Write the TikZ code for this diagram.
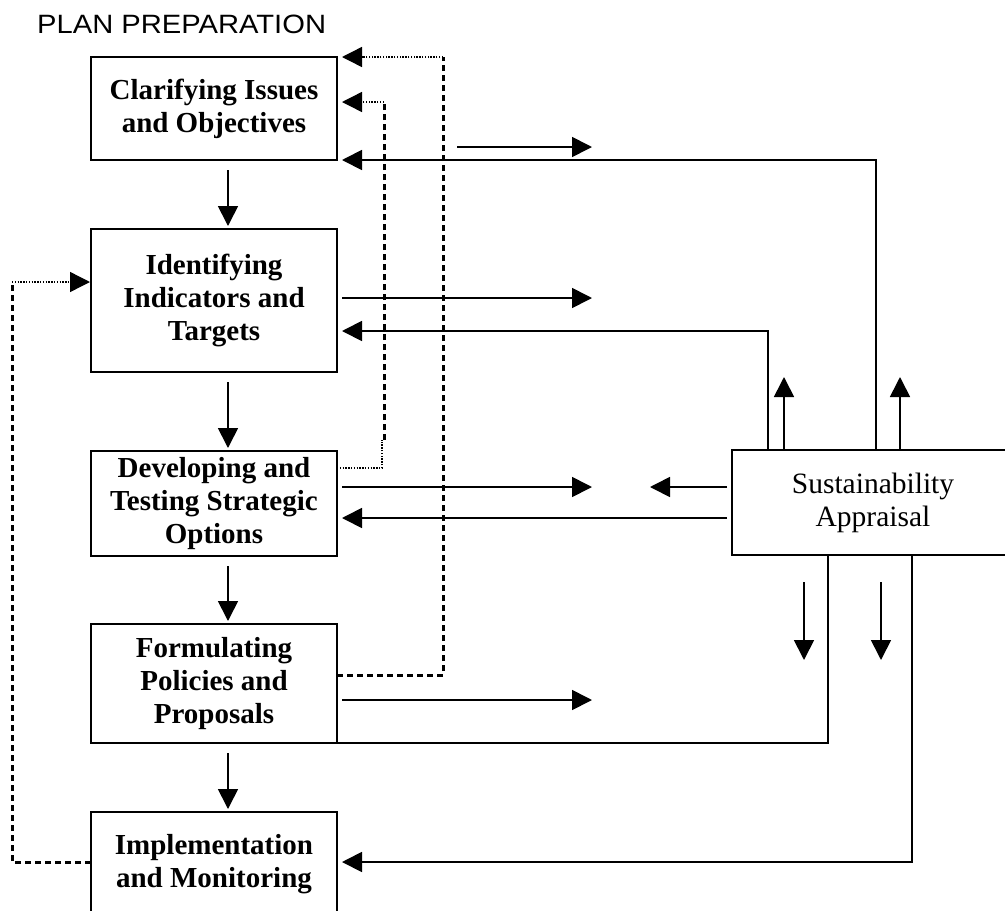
\documentclass[tikz,border=0pt]{standalone}
\usepackage{graphicx}
\usepackage{fontspec}
\setmainfont{Liberation Serif}
\newfontfamily\arialfont{Liberation Sans}
\usetikzlibrary{arrows.meta,calc}
\begin{document}
\begin{tikzpicture}[x=1pt,y=1pt,
  box/.style={draw,line width=2pt,minimum width=246pt,outer sep=0pt,inner sep=0pt,align=center,font=\fontsize{29}{33}\selectfont\bfseries},
  tip/.style={-{Triangle[length=20pt,width=20pt]}},
  arr/.style={line width=1.7pt,tip},
  ln/.style={line width=1.8pt},
  dsh/.style={line width=3pt,dash pattern=on 6pt off 4pt},
  dot/.style={line width=1.4pt,dash pattern=on 1.4pt off 1.4pt},
  tipdot/.style={dot,tip},
]
\useasboundingbox (0,0) rectangle (1005,-911);
\clip (0,0) rectangle (1005,-911);
\fill[white] (0,0) rectangle (1005,-911);

\node[anchor=base west,inner sep=0pt,font=\arialfont\fontsize{26.5}{30}\selectfont] (title) at (37,-33) {\scalebox{1.1}[1]{PLAN PREPARATION}};

% boxes
\node[box,minimum height=103pt] (B1) at (214,-108.5) {Clarifying Issues\\and Objectives};
\node[box,minimum height=143pt] (B2) at (214,-300.5) {Identifying\\Indicators and\\Targets};
\node[box,minimum height=105pt] (B3) at (214,-503.5) {Developing and\\Testing Strategic\\Options};
\node[box,minimum height=119pt] (B4) at (214,-683.5) {Formulating\\Policies and\\Proposals};
\node[box,draw=none,minimum height=104pt] (B5) at (214,-864) {Implementation\\and Monitoring};
\draw[line width=2pt] (B5.west |- 0,-930) |- (B5.north east) -- (B5.east |- 0,-930);
\node[draw,line width=2pt,minimum width=282pt,minimum height=105pt,outer sep=0pt,inner sep=0pt,align=center,font=\fontsize{29.5}{33}\selectfont] (SA) at (873,-502.5) {\raisebox{-3pt}{Sustainability}\\\raisebox{-3pt}{Appraisal}};

% main flow
\coordinate (xa) at (228,0);
\draw[arr,shorten <=10pt,shorten >=3pt] (B1.south -| xa) -- (B2.north -| xa);
\draw[arr,shorten <=10pt,shorten >=3pt] (B2.south -| xa) -- (B3.north -| xa);
\draw[arr,shorten <=10pt,shorten >=3pt] (B3.south -| xa) -- (B4.north -| xa);
\draw[arr,shorten <=10pt,shorten >=3pt] (B4.south -| xa) -- (B5.north -| xa);

% free right arrows
\coordinate (r1s) at (457,-147); \coordinate (r1e) at (592,-147);
\draw[arr] (r1s) -- (r1e);
\coordinate (r2e) at (592,-298);
\draw[arr,shorten <=5pt] (B2.east |- r2e) -- (r2e);
\coordinate (r3e) at (592,-487);
\draw[arr,shorten <=5pt] (B3.east |- r3e) -- (r3e);
\coordinate (r4e) at (592,-700);
\draw[arr,shorten <=5pt] (B4.east |- r4e) -- (r4e);
\coordinate (l1e) at (650,-487);
\draw[arr,shorten <=5pt] (SA.west |- l1e) -- (l1e);
\coordinate (l2) at (0,-518);
\draw[arr,shorten <=5pt,shorten >=5pt] (SA.west |- l2) -- (B3.east |- l2);

% feedback from SA
\coordinate (k1) at (876,-160);
\draw[ln,tip,shorten >=5pt] (SA.north -| k1) |- (B1.east |- k1);
\coordinate (k2) at (768,-331);
\draw[ln,tip,shorten >=5pt] (SA.north -| k2) |- (B2.east |- k2);
\coordinate (u1) at (784,-377); \coordinate (u2) at (900,-377);
\draw[arr] (SA.north -| u1) -- (u1);
\draw[arr] (SA.north -| u2) -- (u2);
\coordinate (d1s) at (804,-582); \coordinate (d1e) at (804,-660);
\draw[arr] (d1s) -- (d1e);
\coordinate (d2s) at (881,-582); \coordinate (d2e) at (881,-660);
\draw[arr] (d2s) -- (d2e);
\coordinate (k3) at (828,0);
\draw[ln] (SA.south -| k3) |- (B4.south east);
\coordinate (k4) at (912,-862);
\draw[ln,tip,shorten >=5pt] (SA.south -| k4) |- (B5.east |- k4);

% dashed / dotted loops
\coordinate (q1) at (443,-675); \coordinate (q2) at (443,-57);
\draw[dsh] (B4.east |- q1) -- (q1) -- (q2);
\draw[tipdot,shorten >=5pt] (q2) -- (B1.east |- q2);

\coordinate (p1) at (382,-468); \coordinate (p2) at (382,-440);
\coordinate (p3) at (384,-440); \coordinate (p4) at (384,-102);
\draw[dot] (B3.east |- p1) -- (p1) -- (p2);
\draw[dsh] (p3) -- (p4);
\draw[tipdot,shorten >=5pt] (p4) -- (B1.east |- p4);

\coordinate (m1) at (12,-862); \coordinate (m2) at (12,-282);
\draw[dsh] (B5.west |- m1) -- (m1) -- (m2);
\draw[tipdot,shorten >=1pt] (m2) -- (B2.west |- m2);
\end{tikzpicture}
\end{document}
